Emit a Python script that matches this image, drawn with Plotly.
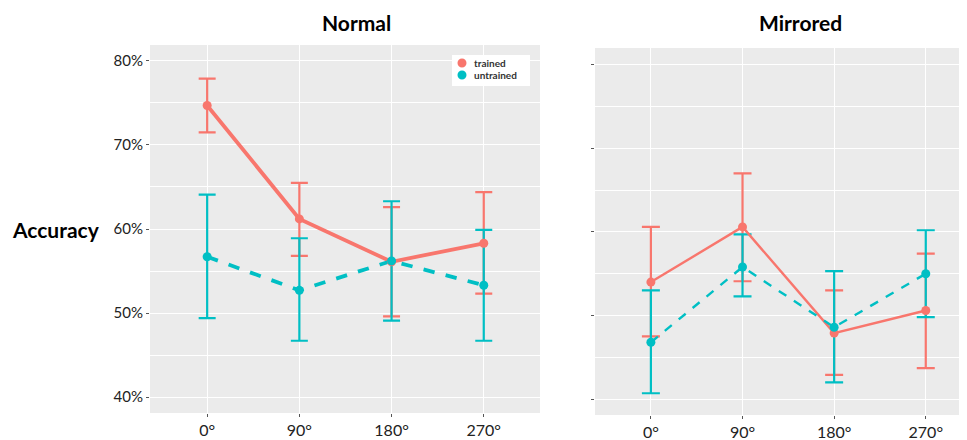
import plotly.graph_objects as go

angles = ["0°", "90°", "180°", "270°"]

# Normal panel (accuracy in %)
normal_trained_mean = [74.7, 61.2, 56.1, 58.3]
normal_trained_upper = [77.9, 65.5, 62.6, 64.4]
normal_trained_lower = [71.5, 56.8, 49.6, 52.3]
normal_untrained_mean = [56.7, 52.7, 56.2, 53.3]
normal_untrained_upper = [64.1, 58.9, 63.3, 59.9]
normal_untrained_lower = [49.4, 46.7, 49.1, 46.7]

# Mirrored panel
mirror_trained_mean = [54.0, 60.6, 47.9, 50.6]
mirror_trained_upper = [60.6, 67.0, 53.0, 57.4]
mirror_trained_lower = [47.5, 54.1, 42.9, 43.7]
mirror_untrained_mean = [46.8, 55.8, 48.6, 55.0]
mirror_untrained_upper = [53.0, 59.7, 55.3, 60.2]
mirror_untrained_lower = [40.7, 52.3, 42.0, 49.8]

y_ticks = [40, 50, 60, 70, 80]
y_tick_labels = ["40%", "50%", "60%", "70%", "80%"]
legend_labels = ["trained", "untrained"]

RED = "#F8766D"
TEAL = "#00BFC4"
FONT = "Lato"

# page has an 8px body margin: figure is 8px smaller, coordinates shifted
W, H = 959, 432
OFF = 8


def px(x):
    return (x - OFF) / W


def py(y):
    return 1 - (y - OFF) / H


def err(mean, upper, lower, color, thick, width):
    return dict(type="data", symmetric=False,
                array=[u - m for u, m in zip(upper, mean)],
                arrayminus=[m - l for m, l in zip(mean, lower)],
                color=color, thickness=thick, width=width)


fig = go.Figure()

panels = [
    ("x", "y", normal_trained_mean, normal_trained_upper, normal_trained_lower,
     normal_untrained_mean, normal_untrained_upper, normal_untrained_lower, 3.8, 8.5),
    ("x2", "y2", mirror_trained_mean, mirror_trained_upper, mirror_trained_lower,
     mirror_untrained_mean, mirror_untrained_upper, mirror_untrained_lower, 2.4, 9),
]

# error bars layer first (as in ggplot layer order)
for xa, ya, tm, tu, tl, um, uu, ul, lw, cw in panels:
    for m, u, l, col in ((tm, tu, tl, RED), (um, uu, ul, TEAL)):
        fig.add_trace(go.Scatter(
            x=angles, y=m, xaxis=xa, yaxis=ya, mode="markers",
            marker=dict(color="rgba(0,0,0,0)", size=1),
            error_y=err(m, u, l, col, 2.2, cw), showlegend=False, hoverinfo="skip"))

# lines and points on top
for xa, ya, tm, tu, tl, um, uu, ul, lw, cw in panels:
    fig.add_trace(go.Scatter(
        x=angles, y=tm, xaxis=xa, yaxis=ya, mode="lines",
        line=dict(color=RED, width=lw), showlegend=False, hoverinfo="skip"))
    fig.add_trace(go.Scatter(
        x=angles, y=um, xaxis=xa, yaxis=ya, mode="lines",
        line=dict(color=TEAL, width=lw, dash="dash"), showlegend=False, hoverinfo="skip"))
for xa, ya, tm, tu, tl, um, uu, ul, lw, cw in panels:
    fig.add_trace(go.Scatter(
        x=angles, y=tm, xaxis=xa, yaxis=ya, mode="markers",
        marker=dict(color=RED, size=9), showlegend=False, hoverinfo="skip"))
    fig.add_trace(go.Scatter(
        x=angles, y=um, xaxis=xa, yaxis=ya, mode="markers",
        marker=dict(color=TEAL, size=9), showlegend=False, hoverinfo="skip"))

common_x = dict(type="category", showgrid=True, gridcolor="white", gridwidth=1.2,
                ticks="outside", ticklen=3, tickcolor="#555", zeroline=False,
                tickfont=dict(family=FONT, size=16, color="#222"), showline=False)
common_y = dict(tickvals=y_ticks, ticktext=y_tick_labels, showgrid=True,
                gridcolor="white", gridwidth=1.2, ticks="outside", ticklen=3,
                tickcolor="#555", zeroline=False, showline=False,
                minor=dict(dtick=5, tick0=40, showgrid=True, gridcolor="white",
                           gridwidth=0.6, ticks=""),
                tickfont=dict(family=FONT, size=15, color="#222"))

# legend drawn as a key box (shapes + texts)
legend_colors = [RED, TEAL]
legend_rows = [63, 75]
shapes = [dict(type="rect", xref="paper", yref="paper",
               x0=px(452), x1=px(530), y0=py(86), y1=py(55),
               fillcolor="white", line=dict(width=0), layer="above")]
annotations = []
for lab, col, ry in zip(legend_labels, legend_colors, legend_rows):
    r = 4.5
    shapes.append(dict(type="circle", xref="paper", yref="paper",
                       x0=px(462 - r), x1=px(462 + r), y0=py(ry + r), y1=py(ry - r),
                       fillcolor=col, line=dict(width=0), layer="above"))
    annotations.append(dict(text=lab, x=px(472), y=py(ry), xref="paper", yref="paper",
                            xanchor="left", yanchor="middle", showarrow=False,
                            font=dict(family=FONT, size=10, color="#333", weight="bold")))

annotations += [
    dict(text="<b>Normal</b>", x=px(356), y=py(22), xref="paper", yref="paper",
         xanchor="center", yanchor="middle",
         showarrow=False, font=dict(family=FONT, size=21, color="black")),
    dict(text="<b>Mirrored</b>", x=px(800), y=py(22), xref="paper", yref="paper",
         xanchor="center", yanchor="middle",
         showarrow=False, font=dict(family=FONT, size=21, color="black")),
    dict(text="<b>Accuracy</b>", x=px(56), y=py(230), xref="paper", yref="paper",
         xanchor="center", yanchor="middle",
         showarrow=False, font=dict(family=FONT, size=21, color="black")),
]

fig.update_layout(
    width=W, height=H, margin=dict(l=0, r=0, t=0, b=0),
    paper_bgcolor="white", plot_bgcolor="#EBEBEB", showlegend=False,
    xaxis=dict(common_x, domain=[px(150), px(540)], range=[-0.62, 3.61], anchor="y"),
    yaxis=dict(common_y, domain=[py(413), py(45)], anchor="x", range=[38.1, 81.9],
               showticklabels=True),
    xaxis2=dict(common_x, domain=[px(595), 1.0], range=[-0.61, 3.45], anchor="y2"),
    yaxis2=dict(common_y, domain=[py(415), py(48)], anchor="x2",
                showticklabels=False, range=[38.1, 82.0]),
    shapes=shapes,
    annotations=annotations,
)

fig.write_html("out.html")
